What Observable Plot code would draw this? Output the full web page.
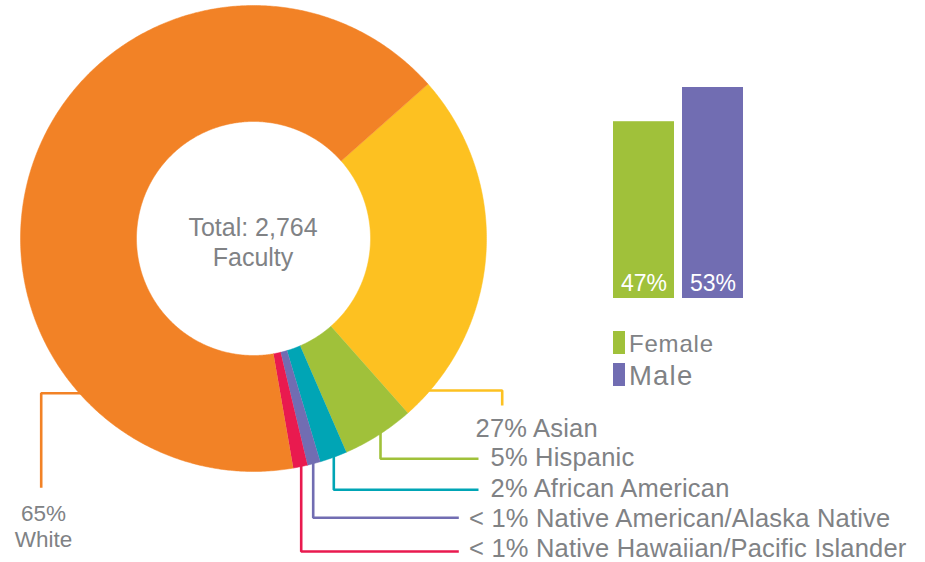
<!DOCTYPE html>
<html><head><meta charset="utf-8">
<script src="https://cdn.jsdelivr.net/npm/d3@7"></script>
<script src="https://cdn.jsdelivr.net/npm/@observablehq/plot@0.6"></script>
<style>
body{margin:0;background:#fff;}
#wrap{position:relative;width:925px;height:562px;overflow:hidden;font-family:"Liberation Sans",Arial,Helvetica,sans-serif;}
#wrap > *{position:absolute;}
.lgtext{color:#808285;line-height:1;white-space:nowrap;}
g[aria-description="slice-labels"] text{letter-spacing:0.2px;}
</style></head><body><div id="wrap"></div>
<script>
// ---- data ----
const categories = ["Asian","Hispanic","African American","Native American/Alaska Native","Native Hawaiian/Pacific Islander","White"];
const shares = [25.0, 5.0, 1.9, 0.9, 1.0, 66.2];          // slice sizes as drawn
const labelLines = [["27% Asian"],["5% Hispanic"],["2% African American"],["< 1% Native American/Alaska Native"],["< 1% Native Hawaiian/Pacific Islander"],["65%","White"]];
const colors = ["#FDC121","#A0C13A","#00A5B5","#716DB2","#E91A4F","#F28226"];
const centerLines = ["Total: 2,764","Faculty"];
const sexes = ["Female","Male"];
const sexShares = [47, 53];
const sexColors = ["#A0C13A","#716DB2"];

// ---- layout ----
const W = 925, H = 562, CX = 253, CY = 238, R = 233, RIN = 117, START = 48.5;
const toX = px => (px - CX) / R, toY = py => (CY - py) / R;
const gray = "#808285";
const font = '"Liberation Sans", Arial, Helvetica, sans-serif';

// slices: annular sectors built from cumulative shares
const total = d3.sum(shares);
const slicePts = [];
let cum = 0;
categories.forEach((cat, i) => {
  const a0 = START + cum / total * 360;
  cum += shares[i];
  const a1 = START + cum / total * 360;
  const n = Math.max(2, Math.ceil((a1 - a0) / 0.5));
  const outer = [], inner = [];
  for (let k = 0; k <= n; k++) {
    const t = (a0 + (a1 - a0) * k / n) * Math.PI / 180;
    outer.push({cat, x: Math.sin(t), y: Math.cos(t)});
    inner.push({cat, x: Math.sin(t) * RIN / R, y: Math.cos(t) * RIN / R});
  }
  slicePts.push(...outer, ...inner.reverse());
});

// leader lines (pixel layout): kind "h" starts horizontally at row y, "v" vertically at column x
const leaderSpec = [
  {kind: "h", side: 1, at: 390, pts: [[501.7, 390], [501.7, 405]]},
  {kind: "v", at: 380, pts: [[380, 458.3], [478, 458.3]]},
  {kind: "v", at: 333.3, pts: [[333.3, 489.3], [478, 489.3]]},
  {kind: "v", at: 312.7, pts: [[312.7, 517.3], [458.3, 517.3]]},
  {kind: "v", at: 300.7, pts: [[300.7, 551], [458.3, 551]]},
  {kind: "h", side: -1, at: 392.7, pts: [[40.7, 392.7], [40.7, 487.3]]}
];
const leaderPts = [];
leaderSpec.forEach((s, i) => {
  let start;
  if (s.kind === "h") start = [CX + s.side * (Math.sqrt(R * R - (s.at - CY) ** 2) - 8), s.at];
  else start = [s.at, CY + Math.sqrt(R * R - (s.at - CX) ** 2) - 8];
  [start, ...s.pts].forEach(p => leaderPts.push({cat: categories[i], x: toX(p[0]), y: toY(p[1])}));
});

// label positions (pixel layout)
const labelPos = [
  {x: 475, ys: [436], anchor: "start"},
  {x: 490, ys: [465], anchor: "start"},
  {x: 490, ys: [496.7], anchor: "start"},
  {x: 468.5, ys: [526], anchor: "start"},
  {x: 468.5, ys: [556.7], anchor: "start"},
  {x: 43, ys: [520, 546.7], anchor: "middle"}
];
const labelRows = [];
labelLines.forEach((lines, i) => lines.forEach((t, j) => labelRows.push({
  text: t, x: toX(labelPos[i].x), y: toY(labelPos[i].ys[j]), anchor: labelPos[i].anchor
})));
const centerRows = centerLines.map((t, j) => ({text: t, x: toX(252.5), y: toY([235, 265][j])}));

const donut = Plot.plot({
  width: W, height: H, margin: 0,
  x: {domain: [toX(0), toX(W)], axis: null},
  y: {domain: [toY(H), toY(0)], axis: null},
  color: {domain: categories, range: colors},
  style: {fontFamily: font, background: "transparent", overflow: "visible"},
  marks: [
    Plot.line(leaderPts, {x: "x", y: "y", z: "cat", stroke: "cat", strokeWidth: 2.6, strokeLinejoin: "miter", strokeLinecap: "butt"}),
    Plot.line(slicePts, {x: "x", y: "y", z: "cat", fill: "cat", stroke: "cat", strokeWidth: 0.5}),
    Plot.text(labelRows.filter(d => d.anchor === "start"), {x: "x", y: "y", text: "text", textAnchor: "start", lineAnchor: "bottom", fontSize: 25.5, fill: gray, ariaDescription: "slice-labels"}),
    Plot.text(labelRows.filter(d => d.anchor === "middle"), {x: "x", y: "y", text: "text", textAnchor: "middle", lineAnchor: "bottom", fontSize: 22.5, fill: gray}),
    Plot.text(centerRows, {x: "x", y: "y", text: "text", textAnchor: "middle", lineAnchor: "bottom", fontSize: 25, fill: gray})
  ]
});
donut.style.left = "0px"; donut.style.top = "0px";

const sexData = sexes.map((s, i) => ({sex: s, share: sexShares[i]}));
const bars = Plot.plot({
  width: 150, height: 230, marginLeft: 10, marginRight: 10, marginTop: 7, marginBottom: 12,
  x: {domain: sexes, paddingInner: 0.116, paddingOuter: 0, axis: null},
  y: {domain: [16, 53], axis: null},
  color: {domain: sexes, range: sexColors},
  style: {fontFamily: font, background: "transparent"},
  marks: [
    Plot.barY(sexData, {x: "sex", y: "share", fill: "sex", clip: true}),
    Plot.text(sexData, {x: "sex", text: d => d.share + "%", frameAnchor: "bottom", lineAnchor: "bottom", dy: -8, fill: "white", fontSize: 23})
  ]
});
bars.style.left = "603px"; bars.style.top = "80px";

const wrap = document.getElementById("wrap");
wrap.appendChild(donut);
wrap.appendChild(bars);

// legend (HTML, beside the bars)
const legendPos = [{top: 331, textTop: 332, size: 24, spacing: 0.8}, {top: 363, textTop: 361.7, size: 27.5, spacing: 1.2}];
sexes.forEach((s, i) => {
  const sw = document.createElement("div");
  Object.assign(sw.style, {left: "613px", top: legendPos[i].top + "px", width: "12.3px", height: "23px", background: sexColors[i]});
  wrap.appendChild(sw);
  const tx = document.createElement("div");
  tx.className = "lgtext";
  tx.textContent = s;
  Object.assign(tx.style, {left: "629px", top: legendPos[i].textTop + "px", fontSize: legendPos[i].size + "px", letterSpacing: legendPos[i].spacing + "px"});
  wrap.appendChild(tx);
});
</script></body></html>
